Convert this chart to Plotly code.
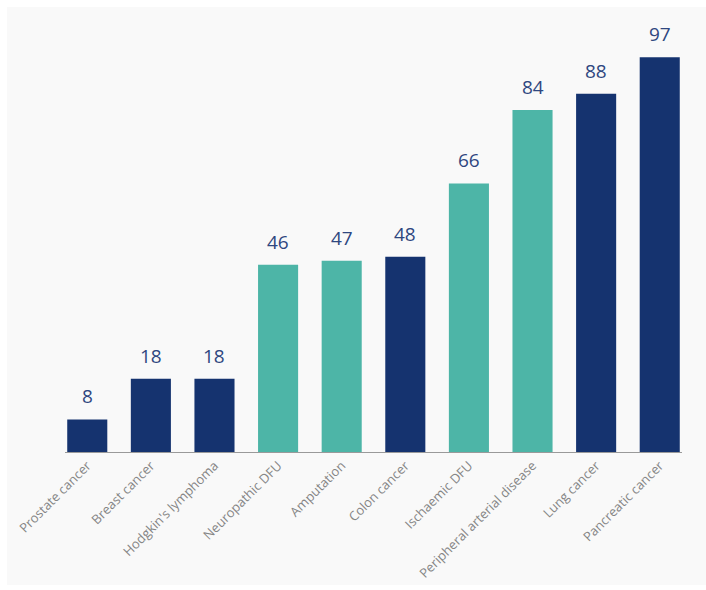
import plotly.graph_objects as go

categories = ["Prostate cancer", "Breast cancer", "Hodgkin's lymphoma", "Neuropathic DFU",
              "Amputation", "Colon cancer", "Ischaemic DFU", "Peripheral arterial disease",
              "Lung cancer", "Pancreatic cancer"]
values = [8, 18, 18, 46, 47, 48, 66, 84, 88, 97]
groups = ["cancer", "cancer", "cancer", "diabetes", "diabetes", "cancer", "diabetes", "diabetes",
          "cancer", "cancer"]

NAVY = "#15336f"
TEAL = "#4db5a7"
colors = [NAVY if g == "cancer" else TEAL for g in groups]

fig = go.Figure(go.Bar(
    x=categories, y=values, marker_color=colors, marker_line_width=0,
    width=0.63,
))

annotations = [dict(x=c, y=v, text=str(v), showarrow=False, yanchor="bottom", yshift=8,
                    font=dict(size=19, color="#2f4780", family="Open Sans"))
               for c, v in zip(categories, values)]

fig.update_layout(
    width=706, height=590,
    margin=dict(l=65, r=24, t=45, b=138, autoexpand=False),
    paper_bgcolor="white", plot_bgcolor="rgba(0,0,0,0)",
    showlegend=False,
    font=dict(family="Open Sans"),
    annotations=annotations,
    shapes=[dict(type="rect", xref="paper", yref="paper", layer="below",
                 x0=-(65 - 7) / 617, x1=1 + 24/617, y0=-(138 - 5) / 407, y1=1 + (45 - 7) / 407,
                 fillcolor="#f9f9f9", line_width=0)],
)
fig.update_xaxes(range=[-0.35, 9.35], tickangle=-45, showline=True, linecolor="#9a9a9a",
                 linewidth=1, ticks="", tickfont=dict(size=13, color="#858585"), showgrid=False,
                 automargin=False)
fig.update_yaxes(range=[0, 100], visible=False, showgrid=False, automargin=False)

fig.write_html("out.html", config={"displayModeBar": False},
               post_script="document.body.style.margin='0px';")
